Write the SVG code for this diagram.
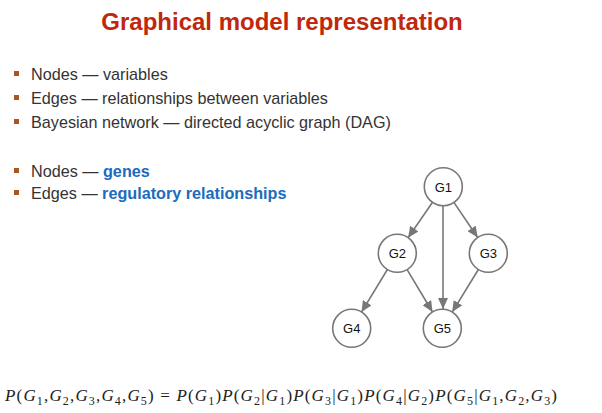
<svg xmlns="http://www.w3.org/2000/svg" width="602" height="413" viewBox="0 0 602 413">
<style>
.title{font-family:"Liberation Sans",Arial,sans-serif;font-weight:bold;font-size:24px;fill:#c1270c}
.body{font-family:"Liberation Sans",Arial,sans-serif;font-size:16.2px;fill:#333}
.hl{font-weight:bold;fill:#1a6cbf}
.bul{fill:#a8581e}
.node circle{fill:#fff;stroke:#777;stroke-width:1.6}
.node text{font-family:"Liberation Sans",Arial,sans-serif;font-size:13px;fill:#111;text-anchor:middle}
.edges line{stroke:#777;stroke-width:1.6;marker-end:url(#ah)}
.math{font-family:"Liberation Serif","Times New Roman",serif;font-size:17px;fill:#222}
.i{font-style:italic}
.s{font-size:12px}
</style>
<defs>
<marker id="ah" markerUnits="userSpaceOnUse" markerWidth="11" markerHeight="10" refX="11" refY="5" orient="auto">
<path d="M0,0 L11,5 L0,10 z" fill="#777"/>
</marker>
</defs>
<rect width="602" height="413" fill="#fff"/>
<text class="title" x="282" y="30" text-anchor="middle">Graphical model representation</text>
<g class="body">
<rect class="bul" x="14" y="71" width="5" height="5"/>
<text x="31" y="80">Nodes — variables</text>
<rect class="bul" x="14" y="95" width="5" height="5"/>
<text x="31" y="104">Edges — relationships between variables</text>
<rect class="bul" x="14" y="119" width="5" height="5"/>
<text x="31" y="128">Bayesian network — directed acyclic graph (DAG)</text>
<rect class="bul" x="14" y="168" width="5" height="5"/>
<text x="31" y="177">Nodes — <tspan class="hl">genes</tspan></text>
<rect class="bul" x="14" y="190" width="5" height="5"/>
<text x="31" y="199">Edges — <tspan class="hl">regulatory relationships</tspan></text>
</g>
<g class="edges">
<line x1="432.5" y1="202.3" x2="408.1" y2="237.7"/>
<line x1="453.9" y1="202.4" x2="477.7" y2="237.5"/>
<line x1="443" y1="206" x2="443" y2="309"/>
<line x1="387.4" y1="269.5" x2="361.5" y2="312.1"/>
<line x1="407.1" y1="269.6" x2="432.5" y2="312"/>
<line x1="478.4" y1="269.5" x2="452.2" y2="312.1"/>
</g>
<g id="G1" class="node"><circle cx="443.3" cy="186.7" r="19"/><text x="443.3" y="191.5">G1</text></g>
<g id="G2" class="node"><circle cx="397.3" cy="253.3" r="19"/><text x="397.3" y="258">G2</text></g>
<g id="G3" class="node"><circle cx="488.3" cy="253.3" r="19"/><text x="488.3" y="258">G3</text></g>
<g id="G4" class="node"><circle cx="351.7" cy="328.3" r="19"/><text x="351.7" y="333">G4</text></g>
<g id="G5" class="node"><circle cx="442.3" cy="328.3" r="19"/><text x="442.3" y="333">G5</text></g>
<text class="math" x="5" y="401" textLength="552" lengthAdjust="spacing"><tspan class="i">P</tspan>(<tspan class="i">G</tspan><tspan class="s" baseline-shift="-4">1</tspan>,<tspan class="i">G</tspan><tspan class="s" baseline-shift="-4">2</tspan>,<tspan class="i">G</tspan><tspan class="s" baseline-shift="-4">3</tspan>,<tspan class="i">G</tspan><tspan class="s" baseline-shift="-4">4</tspan>,<tspan class="i">G</tspan><tspan class="s" baseline-shift="-4">5</tspan>) = <tspan class="i">P</tspan>(<tspan class="i">G</tspan><tspan class="s" baseline-shift="-4">1</tspan>)<tspan class="i">P</tspan>(<tspan class="i">G</tspan><tspan class="s" baseline-shift="-4">2</tspan>|<tspan class="i">G</tspan><tspan class="s" baseline-shift="-4">1</tspan>)<tspan class="i">P</tspan>(<tspan class="i">G</tspan><tspan class="s" baseline-shift="-4">3</tspan>|<tspan class="i">G</tspan><tspan class="s" baseline-shift="-4">1</tspan>)<tspan class="i">P</tspan>(<tspan class="i">G</tspan><tspan class="s" baseline-shift="-4">4</tspan>|<tspan class="i">G</tspan><tspan class="s" baseline-shift="-4">2</tspan>)<tspan class="i">P</tspan>(<tspan class="i">G</tspan><tspan class="s" baseline-shift="-4">5</tspan>|<tspan class="i">G</tspan><tspan class="s" baseline-shift="-4">1</tspan>,<tspan class="i">G</tspan><tspan class="s" baseline-shift="-4">2</tspan>,<tspan class="i">G</tspan><tspan class="s" baseline-shift="-4">3</tspan>)</text>
</svg>
